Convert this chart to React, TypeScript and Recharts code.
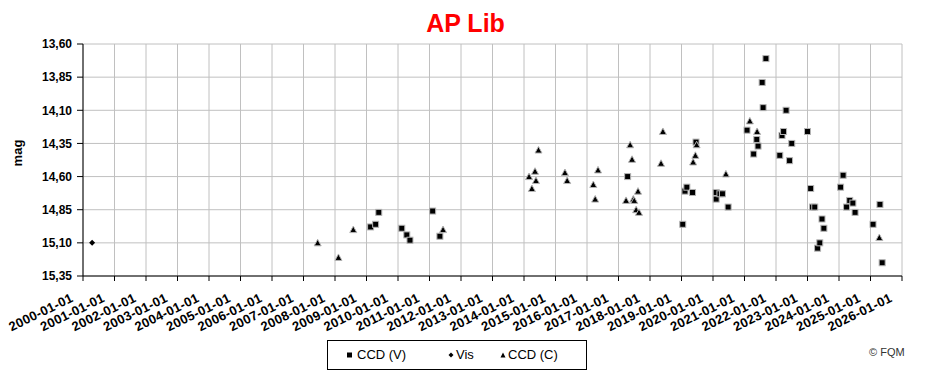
import { ScatterChart, Scatter, XAxis, YAxis, CartesianGrid } from 'recharts';

// decimal years / magnitudes
const ccdVDates = [
  2009.13, 2009.29, 2009.39, 2010.12, 2010.28, 2010.38, 2011.1, 2011.33, 2017.29, 2019.04,
  2019.11, 2019.17, 2019.35, 2019.46, 2020.1, 2020.1, 2020.22, 2020.3, 2020.48, 2021.08,
  2021.29, 2021.39, 2021.43, 2021.56, 2021.59, 2021.68, 2022.12, 2022.19, 2022.24, 2022.32,
  2022.43, 2022.5, 2023.0, 2023.1, 2023.16, 2023.23, 2023.32, 2023.39, 2023.46, 2023.52,
  2024.05, 2024.13, 2024.24, 2024.34, 2024.44, 2024.51, 2025.08, 2025.3, 2025.37,
];
const ccdVMags = [
  14.98, 14.96, 14.87, 14.99, 15.04, 15.08, 14.86, 15.05, 14.6, 14.96,
  14.71, 14.68, 14.72, 14.34, 14.72, 14.77, 14.73, 14.73, 14.83, 14.25,
  14.43, 14.32, 14.37, 13.89, 14.08, 13.71, 14.44, 14.29, 14.26, 14.1,
  14.48, 14.35, 14.26, 14.69, 14.83, 14.83, 15.14, 15.1, 14.92, 14.99,
  14.68, 14.59, 14.83, 14.78, 14.8, 14.87, 14.96, 14.81, 15.25,
];

const visDates = [2000.29];
const visMags = [15.1];

const ccdCDates = [
  2007.45, 2008.11, 2008.58, 2011.43, 2014.16, 2014.25, 2014.35, 2014.38, 2014.46, 2015.3,
  2015.37, 2016.2, 2016.26, 2016.35, 2017.24, 2017.37, 2017.43, 2017.47, 2017.5, 2017.56,
  2017.62, 2017.65, 2018.35, 2018.41, 2019.37, 2019.44, 2019.48, 2020.41, 2021.17, 2021.4,
  2025.28,
];
const ccdCMags = [
  15.1, 15.21, 15.0, 15.0, 14.6, 14.69, 14.56, 14.63, 14.4, 14.57,
  14.63, 14.66, 14.77, 14.55, 14.78, 14.36, 14.47, 14.77, 14.78, 14.85,
  14.71, 14.87, 14.5, 14.26, 14.49, 14.44, 14.36, 14.58, 14.18, 14.26,
  15.06,
];

const yearTicks = [
  2000, 2001, 2002, 2003, 2004, 2005, 2006, 2007, 2008, 2009, 2010, 2011, 2012, 2013,
  2014, 2015, 2016, 2017, 2018, 2019, 2020, 2021, 2022, 2023, 2024, 2025, 2026,
];
const magTicks = [13.6, 13.85, 14.1, 14.35, 14.6, 14.85, 15.1, 15.35];

const toPoints = (dates: number[], mags: number[]) => dates.map((d, i) => ({ date: d, mag: mags[i] }));
const ccdV = toPoints(ccdVDates, ccdVMags);
const vis = toPoints(visDates, visMags);
const ccdC = toPoints(ccdCDates, ccdCMags);

const FONT = 'Arial, "Liberation Sans", sans-serif';

const SquareDot = (p: any) => (
  <rect x={p.cx - 3} y={p.cy - 3} width={6} height={6} fill="#000" stroke="#b4b4b4" strokeWidth={1} />
);
const TriangleDot = (p: any) => (
  <path
    d={`M${p.cx},${p.cy - 3.5} L${p.cx + 3.5},${p.cy + 3} L${p.cx - 3.5},${p.cy + 3} Z`}
    fill="#000"
    stroke="#b4b4b4"
    strokeWidth={1}
  />
);
const DiamondDot = (p: any) => (
  <path d={`M${p.cx},${p.cy - 3} L${p.cx + 3},${p.cy} L${p.cx},${p.cy + 3} L${p.cx - 3},${p.cy} Z`} fill="#000" />
);

const DateTick = ({ x, y, payload }: any) => (
  <text
    x={x - 9}
    y={y + 18}
    transform={`rotate(-26, ${x - 9}, ${y + 18})`}
    textAnchor="end"
    fontFamily={FONT}
    fontSize={13}
    letterSpacing={0.3}
    fontWeight="bold"
    fill="#000"
  >
    {`${payload.value}-01-01`}
  </text>
);

const MagLabel = ({ viewBox }: any) => {
  const cy = viewBox.y + viewBox.height / 2 - 7;
  return (
    <text
      x={22}
      y={cy}
      transform={`rotate(-90, 22, ${cy})`}
      textAnchor="middle"
      fontFamily={FONT}
      fontSize={13}
      fontWeight="bold"
      fill="#000"
    >
      mag
    </text>
  );
};

const LegendBox = () => (
  <div
    style={{
      position: 'absolute',
      left: 327,
      top: 340,
      width: 258,
      height: 28,
      border: '1px solid #000',
      background: '#fff',
      fontFamily: FONT,
      fontSize: 13,
      color: '#000',
    }}
  >
    <svg width={258} height={28} style={{ position: 'absolute', left: 0, top: 0 }}>
      <rect x={19} y={11.5} width={5} height={5} fill="#000" />
      <path d="M123,11.5 L125.5,14 L123,16.5 L120.5,14 Z" fill="#000" />
      <path d="M175,11.5 L177.5,16.5 L172.5,16.5 Z" fill="#000" />
    </svg>
    <span style={{ position: 'absolute', left: 29, top: 6 }}>CCD (V)</span>
    <span style={{ position: 'absolute', left: 128, top: 6 }}>Vis</span>
    <span style={{ position: 'absolute', left: 180, top: 6 }}>CCD (C)</span>
  </div>
);

export default function App() {
  return (
    <div style={{ position: 'absolute', left: 0, top: 0, width: 931, height: 381, background: '#fff' }}>
      <div
        style={{
          position: 'absolute',
          left: 0,
          top: 8,
          width: 931,
          textAlign: 'center',
          fontFamily: FONT,
          fontSize: 25,
          fontWeight: 'bold',
          color: '#ff0000',
          lineHeight: '30px',
        }}
      >
        AP Lib
      </div>
      <ScatterChart width={931} height={381} margin={{ top: 44, right: 29, bottom: 0, left: 0 }}>
        <CartesianGrid stroke="#c0c0c0" />
        <XAxis
          type="number"
          dataKey="date"
          domain={[2000, 2026]}
          ticks={yearTicks}
          interval={0}
          tick={<DateTick />}
          tickSize={5}
          height={105}
          axisLine={{ stroke: '#000' }}
          tickLine={{ stroke: '#000' }}
          allowDataOverflow
        />
        <YAxis
          type="number"
          dataKey="mag"
          reversed
          domain={[13.6, 15.35]}
          ticks={magTicks}
          interval={0}
          width={83}
          tickSize={6}
          tickMargin={5}
          tickFormatter={(v: number) => v.toFixed(2).replace('.', ',')}
          tick={{ fontFamily: FONT, fontSize: 12, fontWeight: 'bold', fill: '#000' }}
          axisLine={{ stroke: '#000' }}
          tickLine={{ stroke: '#000' }}
          label={<MagLabel />}
          allowDataOverflow
        />
        <Scatter name="CCD (V)" data={ccdV} shape={SquareDot} isAnimationActive={false} />
        <Scatter name="Vis" data={vis} shape={DiamondDot} isAnimationActive={false} />
        <Scatter name="CCD (C)" data={ccdC} shape={TriangleDot} isAnimationActive={false} />
      </ScatterChart>
      <LegendBox />
      <div
        style={{
          position: 'absolute',
          left: 869,
          top: 346,
          fontFamily: FONT,
          fontSize: 11,
          color: '#333',
        }}
      >
        © FQM
      </div>
    </div>
  );
}
